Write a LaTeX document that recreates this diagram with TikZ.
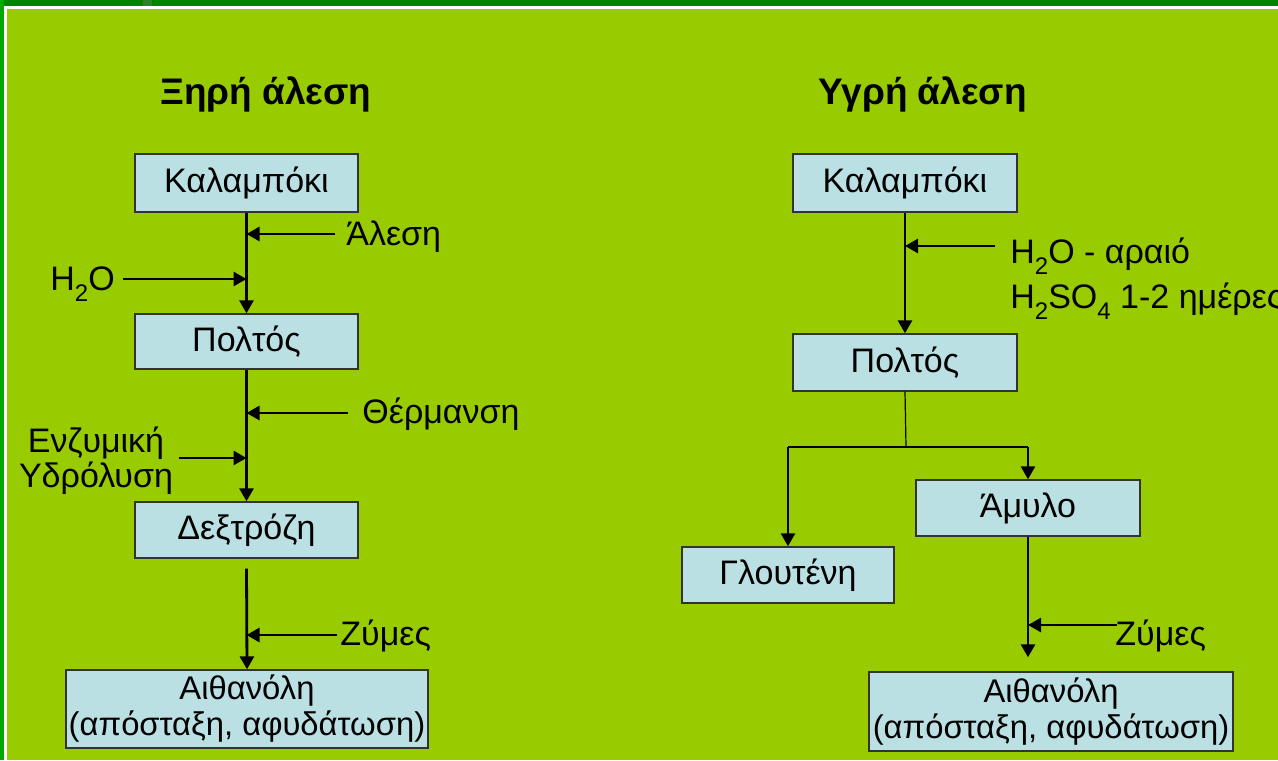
\documentclass[tikz,border=0pt]{standalone}
\usepackage{fontspec}
\setmainfont{Liberation Sans}
\usetikzlibrary{arrows.meta}
\definecolor{limebg}{HTML}{99CC00}
\definecolor{boxblue}{HTML}{BBE0E3}
\definecolor{topgreen}{HTML}{008400}
\definecolor{edgegreen}{HTML}{00A800}
\definecolor{patchgreen}{HTML}{2E7D32}
\newcommand{\sbs}[1]{\raisebox{-0.33em}{\fontsize{12}{12}\selectfont #1}}
\begin{document}
\begin{tikzpicture}[x=0.5pt,y=-0.5pt,
  box/.style={draw=black!80, line width=0.7pt, fill=boxblue, inner sep=0pt,
    font=\fontsize{17}{18}\selectfont, align=center},
  wide box/.style={box, font=\fontsize{16.4}{18}\selectfont},
  lbl/.style={inner sep=0pt, font=\fontsize{17}{17.5}\selectfont, align=center},
  ttl/.style={inner sep=0pt, font=\bfseries\fontsize{18.5}{21}\selectfont},
  arr/.style={line width=1.4pt, -{Triangle[length=6.5pt,width=7pt]}},
  thin line/.style={line width=0.6pt},
]
\useasboundingbox (0,0) rectangle (1278,760);
% background and frame
\fill[limebg] (0,0) rectangle (1278,760);
\fill[topgreen] (0,0) rectangle (1278,6);
\fill[patchgreen] (143,0) rectangle (152,6);
\fill[edgegreen] (0,0) rectangle (4,760);
\fill[white] (4,6) rectangle (1278,8.5);
\fill[white] (4,6) rectangle (6.5,760);

% titles
\node[ttl, anchor=base west] (t1) at (160,104) {Ξηρή άλεση};
\node[ttl, anchor=base west] (t2) at (818,104) {Υγρή άλεση};

% ---------- left column ----------
\node[box, minimum width=111.5pt, minimum height=29pt] (kalL) at (246.5,183) {Καλαμπόκι};
\node[box, minimum width=111.5pt, minimum height=27.5pt] (polL) at (246.5,341.5) {Πολτός};
\node[box, minimum width=111.5pt, minimum height=28pt] (dexL) at (246.5,530) {Δεξτρόζη};
\node[wide box, minimum width=181pt, minimum height=39pt] (aithL) at (247,709) {Αιθανόλη\\(απόσταξη, αφυδάτωση)};

\node[lbl, anchor=base west] (alesi) at (346,245) {Άλεση};
\node[lbl, anchor=base west] (h2oL) at (50,290) {H\sbs{2}O};
\node[lbl, anchor=base west] (therm) at (362,423) {Θέρμανση};
\node[lbl, anchor=base] (enz) at (96,487) {Ενζυμική\\Υδρόλυση};
\node[lbl, anchor=base west] (zymL) at (340,645) {Ζύμες};

\draw[arr] (kalL) -- (polL);
\draw[arr] (polL) -- (dexL);
\draw[arr] ([yshift=-5pt]dexL.south) -- (aithL.north);

\coordinate (sA) at (335,234);
\coordinate (sH) at (123,279);
\coordinate (sT) at (348,413);
\coordinate (sE) at (179,458);
\coordinate (sZ) at (337,635);
\draw[arr] (sA) -- (sA -| kalL.south);
\draw[arr] (sH) -- (sH -| kalL.south);
\draw[arr] (sT) -- (sT -| polL.south);
\draw[arr] (sE) -- (sE -| polL.south);
\draw[arr] (sZ) -- (sZ -| dexL.south);

% ---------- right column ----------
\node[box, minimum width=112pt, minimum height=29pt] (kalR) at (905,183) {Καλαμπόκι};
\node[box, minimum width=112pt, minimum height=28.5pt] (polR) at (905,362.5) {Πολτός};
\node[box, minimum width=106pt, minimum height=28pt] (glu) at (788,575) {Γλουτένη};
\node[box, minimum width=112pt, minimum height=28pt] (amy) at (1028,508) {Άμυλο};
\node[wide box, minimum width=182pt, minimum height=39.5pt] (aithR) at (1051,711.5) {Αιθανόλη\\(απόσταξη, αφυδάτωση)};

\node[lbl, anchor=base west, align=left] (h2oR) at (1010,308) {H\sbs{2}O - αραιό\\[3pt]H\sbs{2}SO\sbs{4} 1-2 ημέρες};
\node[lbl, anchor=base west] (zymR) at (1115,645) {Ζύμες};

\draw[arr] (kalR) -- (polR);
\coordinate (sR) at (995,246);
\draw[arr] (sR) -- (sR -| kalR.south);

\coordinate (br) at (906,447);
\draw[thin line] (polR.south) -- (br);
\draw[line width=1.1pt] (glu.north |- br) -- (amy.north |- br);
\draw[arr] (glu.north |- br) -- (glu.north);
\draw[arr] (amy.north |- br) -- (amy.north);

\path (amy.south |- aithR.north) ++(0,-14) coordinate (amyEnd);
\draw[arr] (amy.south) -- (amyEnd);
\coordinate (sZR) at (1117,625);
\draw[arr] (sZR) -- (sZR -| amy.south);
\end{tikzpicture}
\end{document}
